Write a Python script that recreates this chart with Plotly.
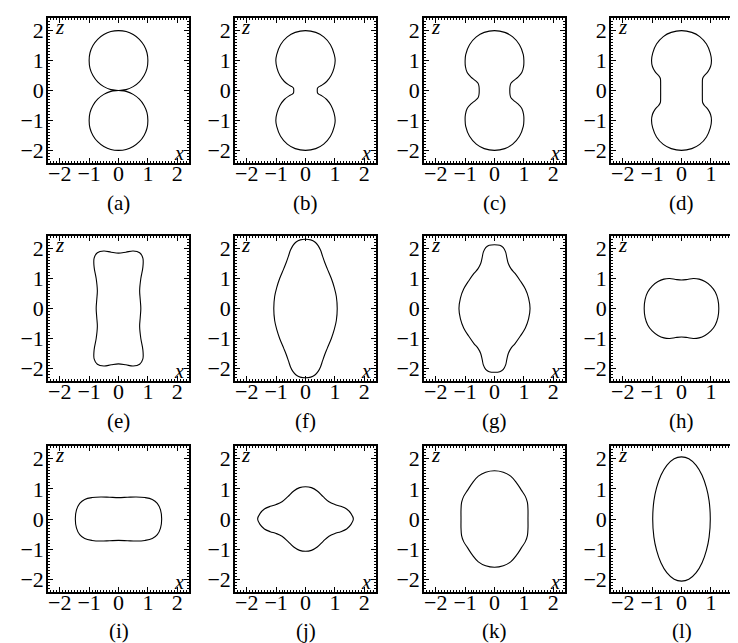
import plotly.graph_objects as go

# ---------------- data (first-quadrant outline of each shape, x and z) -------------
captions = ["(a)", "(b)", "(c)", "(d)", "(e)", "(f)", "(g)", "(h)", "(i)", "(j)", "(k)", "(l)"]
tick_vals = [-2, -1, 0, 1, 2]
tick_text = ["\u22122", "\u22121", "0", "1", "2"]

a_x = [0, 0.26, 0.5, 0.71, 0.87, 0.97, 1.0, 0.97, 0.87, 0.71, 0.5, 0.26, 0]
a_z = [2.0, 1.97, 1.87, 1.71, 1.5, 1.26, 1.0, 0.74, 0.5, 0.29, 0.13, 0.03, 0]

b_x = [0, 0.35, 0.62, 0.85, 0.98, 1.01, 0.97, 0.87, 0.72, 0.56, 0.46, 0.41, 0.4]
b_z = [2.0, 1.94, 1.79, 1.53, 1.2, 1.0, 0.75, 0.5, 0.3, 0.18, 0.13, 0.08, 0]

c_x = [0, 0.35, 0.62, 0.85, 0.98, 1.0, 0.99, 0.93, 0.8, 0.65, 0.56, 0.53, 0.52]
c_z = [2.0, 1.94, 1.79, 1.53, 1.2, 1.0, 0.8, 0.6, 0.45, 0.33, 0.24, 0.15, 0]

d_x = [0, 0.35, 0.62, 0.85, 0.98, 1.02, 0.99, 0.9, 0.78, 0.72, 0.71, 0.71]
d_z = [2.0, 1.94, 1.8, 1.55, 1.25, 1.0, 0.8, 0.63, 0.5, 0.4, 0.2, 0]

e_x = [0, 0.25, 0.5, 0.72, 0.83, 0.83, 0.76, 0.72, 0.74, 0.76]
e_z = [1.85, 1.88, 1.92, 1.86, 1.68, 1.38, 1.0, 0.6, 0.3, 0]

f_x = [0, 0.18, 0.32, 0.43, 0.51, 0.58, 0.65, 0.74, 0.88, 0.98, 1.05, 1.08]
f_z = [2.31, 2.29, 2.22, 2.1, 1.95, 1.75, 1.55, 1.33, 1.0, 0.7, 0.4, 0]

g_x = [0, 0.18, 0.3, 0.38, 0.42, 0.47, 0.56, 0.7, 0.88, 1.05, 1.16, 1.21]
g_z = [2.13, 2.11, 2.03, 1.88, 1.7, 1.5, 1.33, 1.17, 0.92, 0.65, 0.35, 0]

h_x = [0, 0.2, 0.4, 0.6, 0.8, 1.0, 1.15, 1.24, 1.27]
h_z = [0.95, 0.97, 1.0, 0.98, 0.9, 0.75, 0.55, 0.3, 0]

i_x = [0, 0.3, 0.6, 0.9, 1.15, 1.32, 1.43, 1.47]
i_z = [0.71, 0.72, 0.73, 0.71, 0.65, 0.52, 0.3, 0]

j_x = [0, 0.2, 0.4, 0.6, 0.8, 1.0, 1.2, 1.4, 1.55, 1.63]
j_z = [1.07, 1.04, 0.93, 0.74, 0.57, 0.48, 0.42, 0.33, 0.18, 0]

k_x = [0, 0.3, 0.55, 0.75, 0.92, 1.05, 1.12, 1.14, 1.14]
k_z = [1.6, 1.55, 1.42, 1.2, 0.95, 0.75, 0.55, 0.3, 0]

l_x = [0, 0.25, 0.5, 0.7, 0.85, 0.94, 0.98]
l_z = [2.06, 2.0, 1.78, 1.45, 1.03, 0.6, 0]

quarters = [(a_x, a_z), (b_x, b_z), (c_x, c_z), (d_x, d_z),
            (e_x, e_z), (f_x, f_z), (g_x, g_z), (h_x, h_z),
            (i_x, i_z), (j_x, j_z), (k_x, k_z), (l_x, l_z)]

# ---------------- layout geometry (pixels) ----------------
W, H = 738, 643
rows_px = [(10, 155), (228, 373), (438, 584)]
cols_px = [(40, 181), (227, 368), (416, 557), (603, 738)]
caption_y_px = [195, 413, 623]
px_per_unit_x = 141 / 4.8


def full_outline(qx, qz):
    xs = list(qx) + list(qx[-2::-1]) + [-v for v in qx[1:]] + [-v for v in qx[-2::-1]]
    zs = list(qz) + [-v for v in qz[-2::-1]] + [-v for v in qz[1:]] + list(qz[-2::-1])
    return xs, zs


fig = go.Figure()
layout = dict(width=W, height=H, margin=dict(l=0, r=0, t=0, b=0),
              paper_bgcolor="white", plot_bgcolor="white", showlegend=False,
              font=dict(family="Liberation Serif", color="black"))
annotations = []

serif = "Liberation Serif"

for idx, (qx, qz) in enumerate(quarters):
    r, c = divmod(idx, 4)
    n = idx + 1
    xs, zs = full_outline(qx, qz)
    xa = "x" if n == 1 else f"x{n}"
    ya = "y" if n == 1 else f"y{n}"
    fig.add_trace(go.Scatter(x=xs, y=zs, mode="lines", xaxis=xa, yaxis=ya,
                             line=dict(color="black", width=1.1, shape="spline", smoothing=1),
                             hoverinfo="skip"))
    left, right = cols_px[c]
    top, bot = rows_px[r]
    xmax = -2.4 + (right - left) / px_per_unit_x
    common = dict(showline=True, linecolor="black", linewidth=1.5,
                  ticks="inside", ticklen=5, tickwidth=1, tickcolor="black",
                  tickmode="array", tickvals=tick_vals, ticktext=tick_text,
                  minor=dict(tickmode="linear", tick0=0, dtick=0.1, ticks="inside",
                             ticklen=2.5, tickwidth=0.8, tickcolor="black"),
                  showgrid=False, zeroline=False, fixedrange=True,
                  tickfont=dict(family=serif, size=22, color="black"))
    layout["xaxis" if n == 1 else f"xaxis{n}"] = dict(
        common, domain=[left / W, right / W], range=[-2.4, xmax], anchor=ya,
        mirror="allticks", ticklabelstandoff=-10)
    layout["yaxis" if n == 1 else f"yaxis{n}"] = dict(
        common, domain=[1 - bot / H, 1 - top / H], range=[-2.42, 2.42], anchor=xa,
        mirror=("allticks" if c < 3 else False), ticklabelstandoff=-2)
    # axis letters
    annotations.append(dict(text="<i>z</i>", xref="paper", yref="paper",
                            x=(left + 11) / W, y=1 - (top + 9) / H,
                            showarrow=False, xanchor="center", yanchor="middle",
                            font=dict(family=serif, size=21, color="black")))
    annotations.append(dict(text="<i>x</i>", xref="paper", yref="paper",
                            x=(left + 131) / W, y=1 - (bot - 10) / H,
                            showarrow=False, xanchor="center", yanchor="middle",
                            font=dict(family=serif, size=20, color="black")))
    annotations.append(dict(text=captions[idx], xref="paper", yref="paper",
                            x=(left + 70.5) / W, y=1 - caption_y_px[r] / H,
                            showarrow=False, xanchor="center", yanchor="middle",
                            font=dict(family=serif, size=21, color="black")))

layout["annotations"] = annotations
fig.update_layout(**layout)
fig.write_html("out.html")
